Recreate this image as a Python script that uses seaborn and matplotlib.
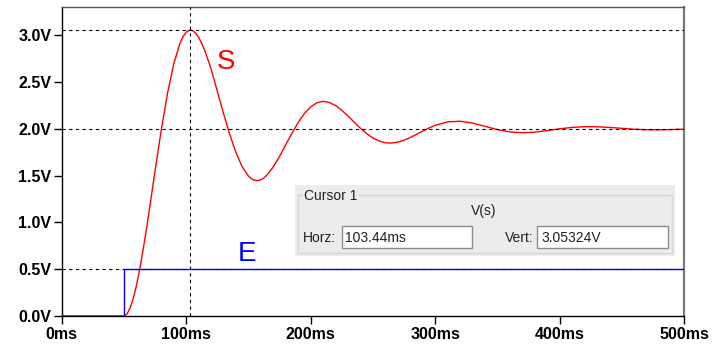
import pandas as pd
import matplotlib.pyplot as plt
from matplotlib.patches import Rectangle
import seaborn as sns

# Values (time in ms, voltage in V)
s_time = [0, 50, 52.5, 55, 57.5, 60, 62.5, 65, 67.5, 70, 75, 80, 85, 90, 95, 97.5,
          100, 102.5, 103.44, 105, 107.5, 110, 112.5, 115, 120, 125, 130, 135, 140,
          145, 150, 152.5, 155, 157.5, 160, 162.5, 165, 170, 175, 180, 185, 190,
          195, 200, 205, 210, 215, 220, 225, 230, 235, 240, 245, 250, 255, 260,
          265, 270, 275, 280, 285, 290, 295, 300, 310, 320, 330, 340, 350, 360,
          370, 380, 390, 400, 410, 420, 430, 440, 450, 460, 470, 480, 490, 500]
s_volt = [0, 0, 0.022, 0.086, 0.188, 0.323, 0.487, 0.675, 0.880, 1.097, 1.550,
          1.988, 2.378, 2.692, 2.911, 2.984, 3.031, 3.052, 3.053, 3.049, 3.023,
          2.977, 2.912, 2.833, 2.640, 2.401, 2.163, 1.939, 1.745, 1.594, 1.495,
          1.465, 1.449, 1.446, 1.455, 1.475, 1.506, 1.593, 1.704, 1.828, 1.952,
          2.066, 2.162, 2.233, 2.277, 2.292, 2.281, 2.248, 2.197, 2.136, 2.070,
          2.006, 1.948, 1.901, 1.869, 1.850, 1.847, 1.856, 1.877, 1.906, 1.939,
          1.974, 2.007, 2.036, 2.073, 2.080, 2.061, 2.026, 1.991, 1.966, 1.957,
          1.963, 1.980, 1.999, 2.014, 2.022, 2.021, 2.014, 2.004, 1.995, 1.989,
          1.988, 1.991, 1.996]

e_time = [0, 50, 50, 500]
e_volt = [0, 0, 0.5, 0.5]

x_ticks = [0, 100, 200, 300, 400, 500]
x_tick_labels = ["0ms", "100ms", "200ms", "300ms", "400ms", "500ms"]
y_ticks = [0.0, 0.5, 1.0, 1.5, 2.0, 2.5, 3.0]
y_tick_labels = ["0.0V", "0.5V", "1.0V", "1.5V", "2.0V", "2.5V", "3.0V"]

cursor_time = 103.44
cursor_volt = 3.05324
ref_levels = [2.0, 0.5]

df_s = pd.DataFrame({"t": s_time, "v": s_volt})
df_e = pd.DataFrame({"t": e_time, "v": e_volt})

sns.set_theme(style="white")
plt.rcParams['font.family'] = ['Liberation Sans', 'DejaVu Sans']

W, H = 725, 348
fig = plt.figure(figsize=(W / 100, H / 100), dpi=100)
fig.patch.set_facecolor("white")
ax = fig.add_axes([61.7 / W, 1 - 316 / H, 622.3 / W, 309 / H])
ax.set_facecolor("white")


def px(x, y):
    # figure pixel -> figure fraction
    return (x / W, 1 - y / H)


sns.lineplot(data=df_s, x="t", y="v", ax=ax, color="#ff0000", linewidth=1.0,
             estimator=None, sort=False, legend=False, zorder=2)
sns.lineplot(data=df_e, x="t", y="v", ax=ax, color="#0000ff", linewidth=1.0,
             estimator=None, sort=False, legend=False, zorder=4)

# cursor / reference dashed lines
dash = dict(color="black", linewidth=0.8, linestyle=(0, (3, 3)), zorder=3)
ax.axvline(cursor_time, **dash)
ax.axhline(cursor_volt, **dash)
for lvl in ref_levels:
    ax.axhline(lvl, **dash)

ax.set_xlim(0, 500)
ax.set_ylim(0, 3.3)
ax.set_xticks(x_ticks, labels=x_tick_labels)
ax.set_yticks(y_ticks, labels=y_tick_labels)
ax.set_xlabel("")
ax.set_ylabel("")
ax.tick_params(axis="both", length=6, width=1, color="black", direction="out",
               labelsize=11.5, labelcolor="black")
ax.tick_params(axis="y", pad=1.5)
ax.tick_params(axis="x", pad=2)
for lab in ax.get_xticklabels() + ax.get_yticklabels():
    lab.set_fontweight("bold")
ax.xaxis.set_ticks_position("bottom")
ax.yaxis.set_ticks_position("left")

ax.spines["left"].set_color("black")
ax.spines["bottom"].set_color("black")
ax.spines["left"].set_linewidth(1.0)
ax.spines["bottom"].set_linewidth(1.0)
ax.spines["top"].set_color("#555555")
ax.spines["top"].set_linewidth(1.0)
ax.spines["right"].set_color("#7a7a7a")
ax.spines["right"].set_linewidth(1.6)

# trace labels
ax.text(132, 2.71, "S", color="#ff0000", fontsize=20, ha="center", va="center")
ax.text(148.6, 0.66, "E", color="#0000ff", fontsize=20, ha="center", va="center")

# cursor readout panel
tf = fig.transFigure
x0, y0 = px(295, 256)
x1, y1 = px(675, 185)
fig.patches.append(Rectangle((x0, y0), x1 - x0, y1 - y0, transform=tf,
                             facecolor="#ececec", edgecolor="none", zorder=5))
gx0, gy0 = px(298, 253)
gx1, gy1 = px(672, 195)
fig.patches.append(Rectangle((gx0, gy0), gx1 - gx0, gy1 - gy0, transform=tf,
                             facecolor="none", edgecolor="#d6d6d6", linewidth=1.0,
                             zorder=6))
for bx0, bx1 in [(342, 472), (537, 668)]:
    rx0, ry0 = px(bx0, 248)
    rx1, ry1 = px(bx1, 226)
    fig.patches.append(Rectangle((rx0, ry0), rx1 - rx0, ry1 - ry0, transform=tf,
                                 facecolor="white", edgecolor="#8c8c8c",
                                 linewidth=1.0, zorder=6))

panel_txt = dict(transform=tf, fontsize=10, color="#202020", zorder=7)
fig.text(*px(304, 196), "Cursor 1", ha="left", va="center",
         bbox=dict(facecolor="#ececec", edgecolor="none", pad=1.0), **panel_txt)
fig.text(*px(484, 211), "V(s)", ha="center", va="center", **panel_txt)
fig.text(*px(303, 238), "Horz:", ha="left", va="center", **panel_txt)
fig.text(*px(345, 238), f"{cursor_time:.2f}ms", ha="left", va="center", **panel_txt)
fig.text(*px(534, 238), "Vert:", ha="right", va="center", **panel_txt)
fig.text(*px(541, 238), f"{cursor_volt:.5f}V", ha="left", va="center", **panel_txt)

fig.savefig("out.png", dpi=100)
